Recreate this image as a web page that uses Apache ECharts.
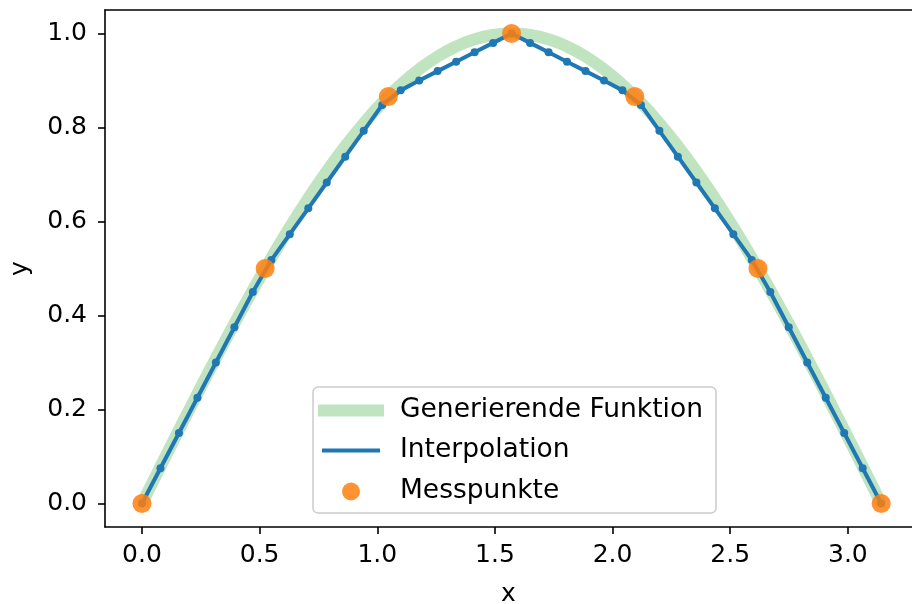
<!DOCTYPE html>
<html>
<head>
<meta charset="utf-8">
<script src="https://cdn.jsdelivr.net/npm/echarts@6/dist/echarts.min.js"></script>
<style>
  html, body { margin: 0; padding: 0; background: #fff; }
  #main { width: 912px; height: 604px; }
</style>
</head>
<body>
<div id="main"></div>
<script>
// x-Werte der Interpolation (41 Stützstellen)
const xInterp = [0, 0.0785, 0.1571, 0.2356, 0.3142, 0.3927, 0.4712, 0.5498, 0.6283, 0.7069,
  0.7854, 0.8639, 0.9425, 1.0210, 1.0996, 1.1781, 1.2566, 1.3352, 1.4137, 1.4923,
  1.5708, 1.6493, 1.7279, 1.8064, 1.8850, 1.9635, 2.0420, 2.1206, 2.1991, 2.2777,
  2.3562, 2.4347, 2.5133, 2.5918, 2.6704, 2.7489, 2.8274, 2.9060, 2.9845, 3.0631, 3.1416];
const yInterp = [0, 0.075, 0.150, 0.225, 0.300, 0.375, 0.450, 0.518, 0.573, 0.628,
  0.683, 0.738, 0.793, 0.848, 0.879, 0.900, 0.920, 0.940, 0.960, 0.980,
  1.000, 0.980, 0.960, 0.940, 0.920, 0.900, 0.879, 0.848, 0.793, 0.738,
  0.683, 0.628, 0.573, 0.518, 0.450, 0.375, 0.300, 0.225, 0.150, 0.075, 0];
// generierende Funktion
const yFunc = [0, 0.0785, 0.1564, 0.2334, 0.3090, 0.3827, 0.4540, 0.5225, 0.5878, 0.6494,
  0.7071, 0.7604, 0.8090, 0.8526, 0.8910, 0.9239, 0.9511, 0.9724, 0.9877, 0.9969,
  1.0000, 0.9969, 0.9877, 0.9724, 0.9511, 0.9239, 0.8910, 0.8526, 0.8090, 0.7604,
  0.7071, 0.6494, 0.5878, 0.5225, 0.4540, 0.3827, 0.3090, 0.2334, 0.1564, 0.0785, 0];
// Messpunkte
const xMess = [0, 0.5236, 1.0472, 1.5708, 2.0944, 2.6180, 3.1416];
const yMess = [0, 0.5, 0.866, 1.0, 0.866, 0.5, 0];
// Achsenbeschriftung
const xTicks = [0, 0.5, 1.0, 1.5, 2.0, 2.5, 3.0];
const yTicks = [0, 0.2, 0.4, 0.6, 0.8, 1.0];

const FONT = 'DejaVu Sans';
const zip = (xs, ys) => xs.map((x, i) => [x, ys[i]]);

let chart = echarts.init(document.getElementById('main'));

const axisLine = { show: true, onZero: false, lineStyle: { color: '#000', width: 1.6 } };
// rechter Rand der Abbildung ist abgeschnitten
const xRange = { min: -0.1571, max: 3.2726 };
const yRange = { min: -0.05, max: 1.05 };

let legendItem = (name, icon, w, h, left, top, pad) => ({
  data: [{ name: name, icon: icon }],
  left: left, top: top, padding: 0,
  itemWidth: w, itemHeight: h,
  z: 100,
  formatter: n => '{t|' + n + '}',
  textStyle: {
    color: '#000', fontFamily: FONT, fontSize: 26.5,
    rich: { t: { padding: [0, 0, 0, pad], fontFamily: FONT, fontSize: 26.5, color: '#000' } }
  }
});

let option = {
  animation: false,
  backgroundColor: '#fff',
  grid: { left: 105, top: 10, right: 0, bottom: 77, containLabel: false, outerBoundsMode: 'none' },
  xAxis: [
    {
      type: 'value', ...xRange, position: 'bottom',
      name: 'x', nameLocation: 'middle', nameGap: 55,
      nameTextStyle: { color: '#000', fontFamily: FONT, fontSize: 25 },
      axisLine: axisLine,
      axisTick: { show: true, length: 7, lineStyle: { color: '#000', width: 1.6 }, customValues: xTicks },
      axisLabel: { color: '#000', fontFamily: FONT, fontSize: 25, margin: 16,
        customValues: xTicks, formatter: v => v.toFixed(1) },
      splitLine: { show: false }
    },
    {
      type: 'value', ...xRange, position: 'top',
      axisLine: axisLine, axisTick: { show: false }, axisLabel: { show: false }, splitLine: { show: false }
    }
  ],
  yAxis: [
    {
      type: 'value', ...yRange, position: 'left',
      name: 'y', nameLocation: 'middle', nameGap: 72, nameRotate: 90,
      nameTextStyle: { color: '#000', fontFamily: FONT, fontSize: 25 },
      axisLine: axisLine,
      axisTick: { show: true, length: 7, lineStyle: { color: '#000', width: 1.6 }, customValues: yTicks },
      axisLabel: { color: '#000', fontFamily: FONT, fontSize: 25, margin: 18,
        customValues: yTicks, formatter: v => v.toFixed(1) },
      splitLine: { show: false }
    }
  ],
  graphic: [
    {
      type: 'rect', z: 50,
      shape: { x: 313, y: 387, width: 403, height: 126, r: 5 },
      style: { fill: 'rgba(255,255,255,0.8)', stroke: '#cccccc', lineWidth: 1.5 }
    },
    {
      // rechter Rand: kein Achsenrahmen sichtbar
      type: 'rect', z: 200,
      shape: { x: 900, y: 13, width: 12, height: 510 },
      style: { fill: '#fff' }
    }
  ],
  legend: [
    legendItem('Generierende Funktion', 'rect', 66, 12, 318, 397, 11),
    legendItem('Interpolation', 'rect', 58, 4, 322, 437, 15),
    legendItem('Messpunkte', 'circle', 18, 18, 342, 478, 35)
  ],
  series: [
    {
      name: 'Generierende Funktion', type: 'line',
      data: zip(xInterp, yFunc), showSymbol: false, smooth: true, z: 2,
      itemStyle: { color: '#c0e3c0' },
      lineStyle: { color: '#c0e3c0', width: 12 }
    },
    {
      name: 'Interpolation', type: 'line',
      data: zip(xInterp, yInterp), symbol: 'circle', symbolSize: 8, z: 3,
      itemStyle: { color: '#1f77b4' },
      lineStyle: { color: '#1f77b4', width: 4 }
    },
    {
      name: 'Messpunkte', type: 'scatter',
      data: zip(xMess, yMess), symbolSize: 19, z: 4,
      itemStyle: { color: '#ff7f0e', opacity: 0.85 }
    }
  ]
};

chart.setOption(option);
</script>
</body>
</html>
